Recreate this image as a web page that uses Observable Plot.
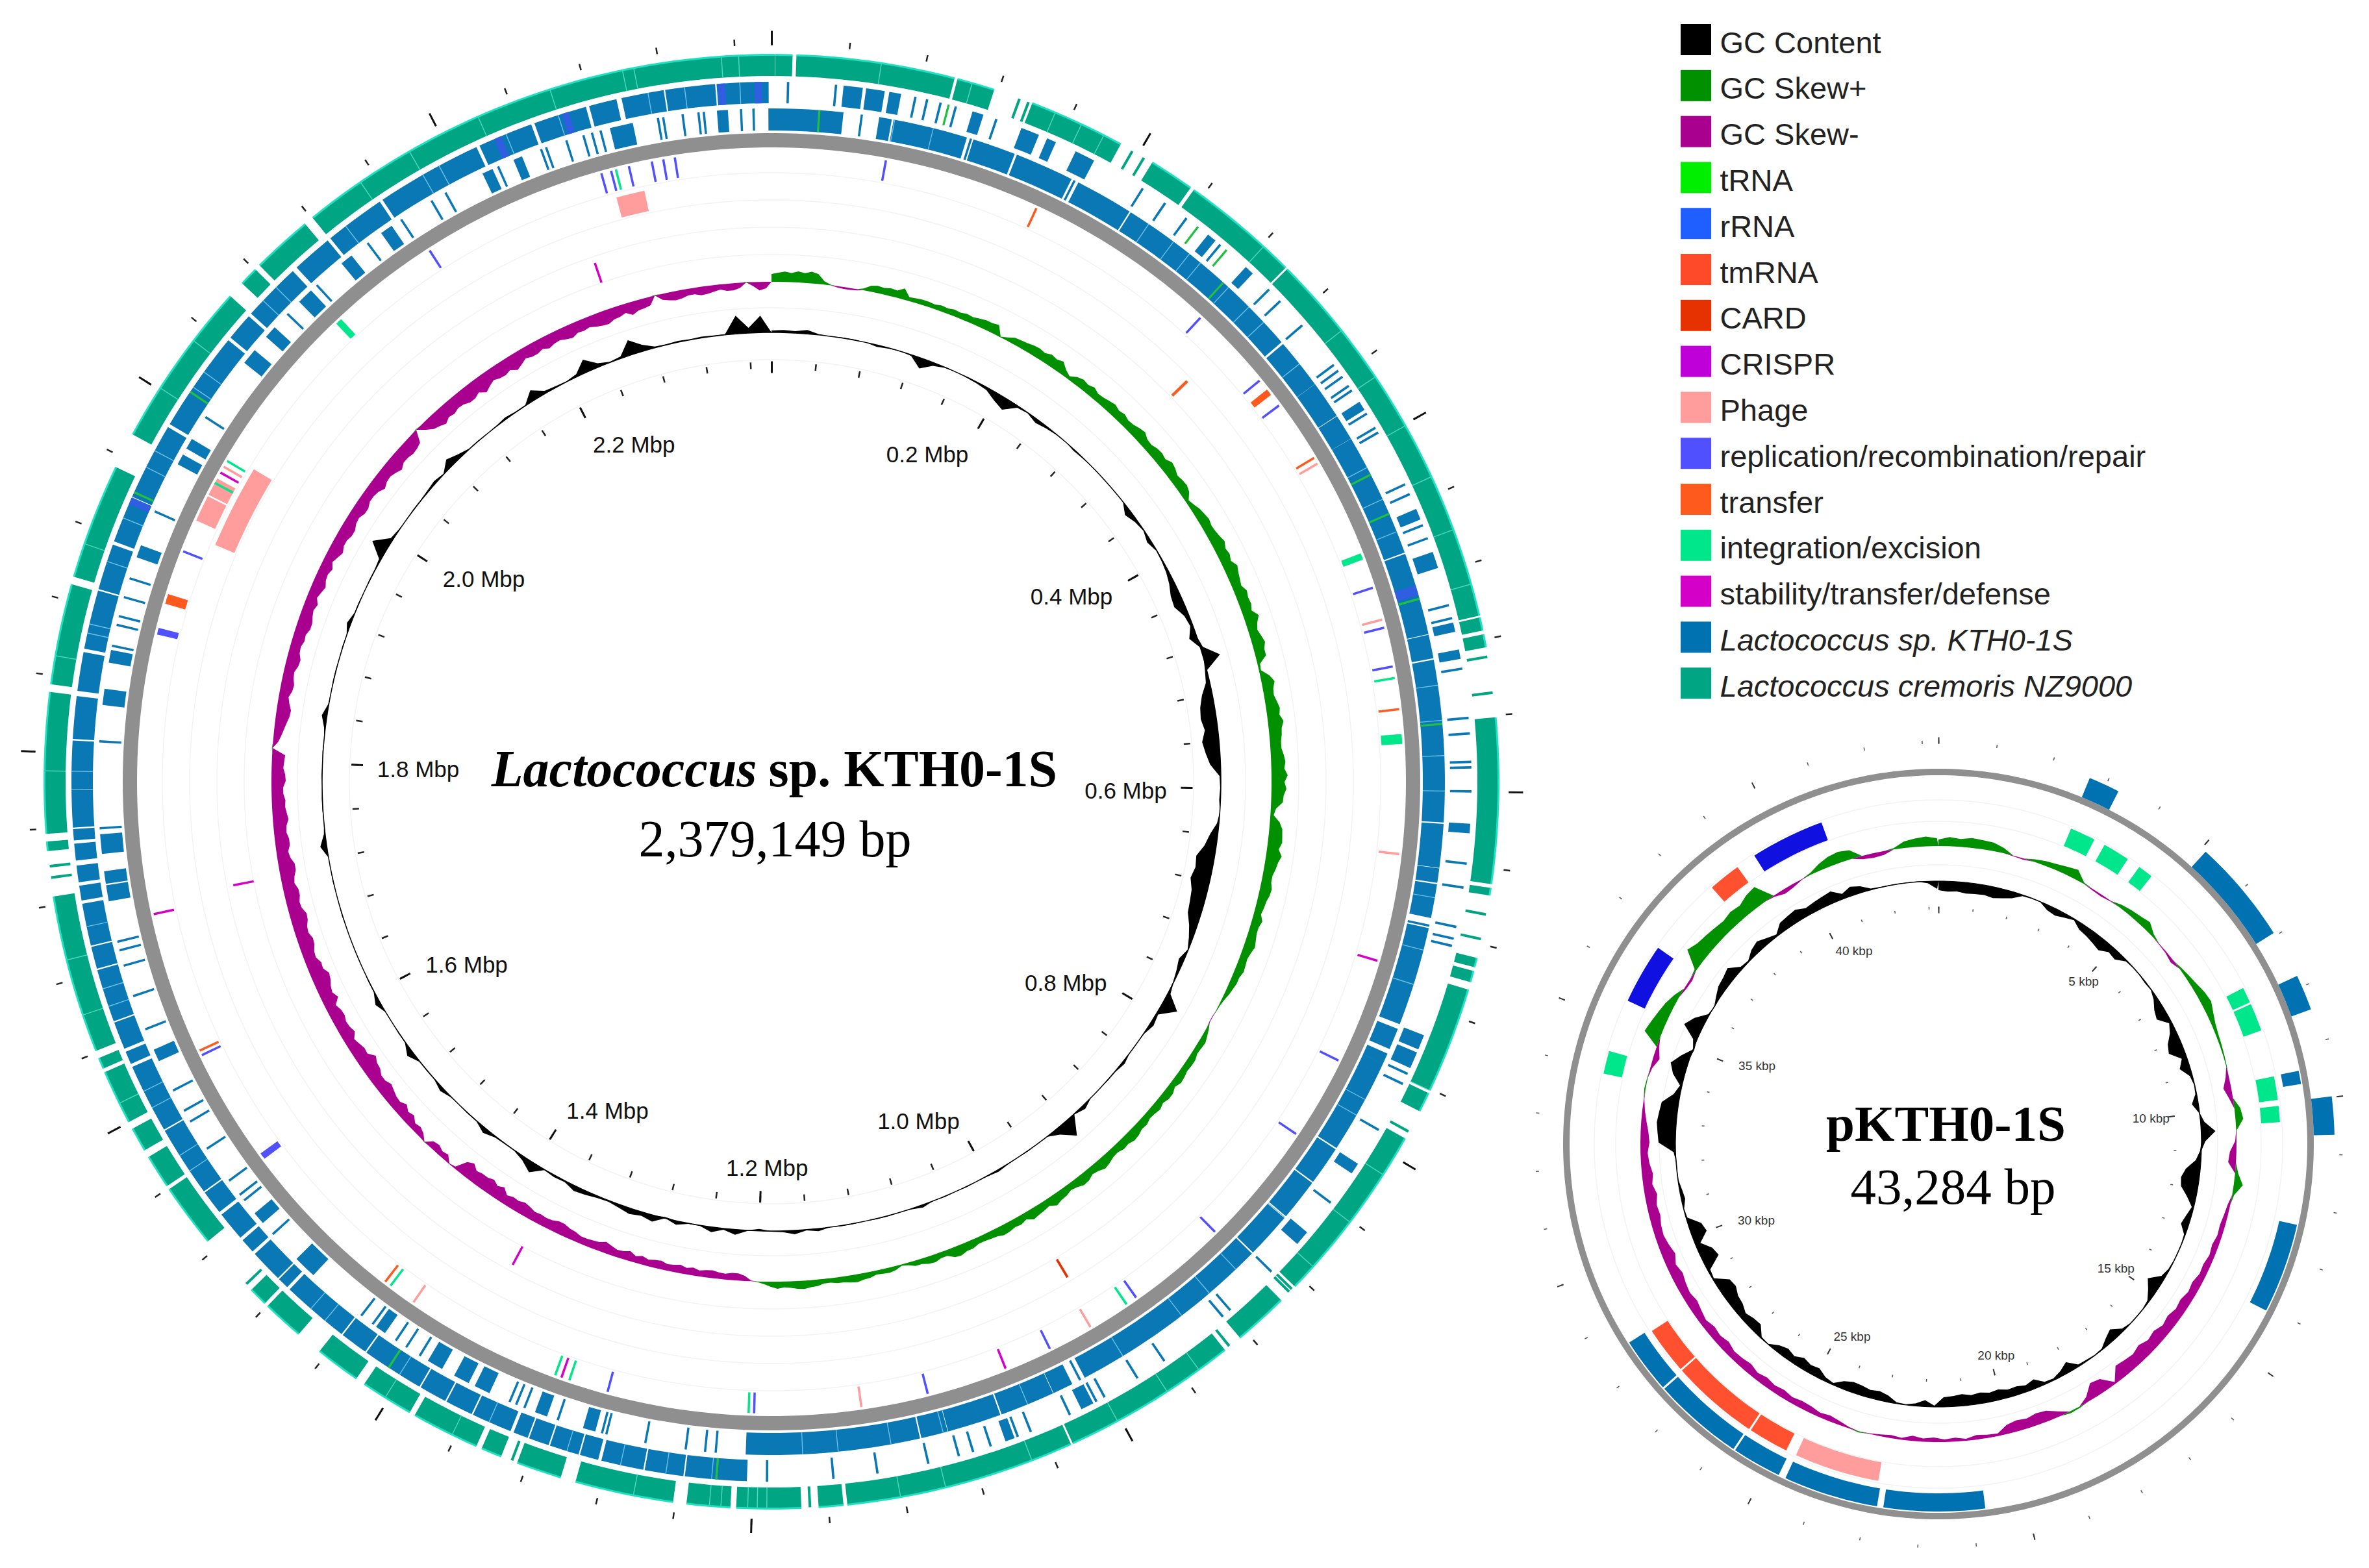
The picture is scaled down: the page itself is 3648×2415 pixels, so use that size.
<!DOCTYPE html>
<html><head><meta charset="utf-8">
<style>html,body{margin:0;padding:0;background:#fff}svg{display:block}</style>
<script src="https://cdn.jsdelivr.net/npm/d3@7"></script>
<script src="https://cdn.jsdelivr.net/npm/@observablehq/plot@0.6"></script>
</head><body><div id="chart"></div>
<script>
// ---- chromosome data, positions in Mbp ----
const genomeLength = 2.379149;
const cremorisBlocks = [[0,.009],[.011,.0945],[.096,.116],[.137,.188],[.207,.231],[.233,.296],[.297,.507],[.508,.515],[.517,.524],[.561,.648],[.65,.654],[.687,.692],[.694,.70],[.704,.76],[.7615,.772],[.788,.884],[.894,.923],[.933,1.026],[1.027,1.148],[1.15,1.163],[1.172,1.206],[1.209,1.232],[1.239,1.291],[1.299,1.323],[1.332,1.343],[1.346,1.382],[1.385,1.413],[1.418,1.442],[1.456,1.478],[1.48,1.49],[1.524,1.558],[1.56,1.578],[1.582,1.595],[1.599,1.628],[1.63,1.636],[1.64,1.724],[1.748,1.753],[1.757,1.831],[1.835,1.888],[1.892,1.953],[1.972,2.06],[2.069,2.079],[2.082,2.114],[2.119,2.379]];
const cremorisThin = [.13,.135,.195,.202,.664,.677,.529,.548,.784,.886,.888,.93,1.1675,1.326,1.494,1.734,1.74];
const cremorisLines = [.0555,.104,.15,.165,.178,.28,.34,.37,.40,.43,.46,.49,.76,.81,.84,.87,.95,.97,1.0,1.049,1.096,1.12,1.19,1.195,1.2,1.214,1.22,1.26,1.36,1.40,1.61,1.66,1.69,1.79,1.85,1.91,2.0,2.03,2.15,2.18,2.22,2.26,2.299,2.305,2.351,2.36];
const kthInnerBlocks = [[2.376,2.379],[0,.038],[.0595,.0655],[.0677,.109],[.114,.122],[.123,.1375],[.141,.153],[.154,.1725],[.179,.21],[.212,.3235],[.326,.3537],[.355,.3755],[.377,.3907],[.392,.462],[.464,.51],[.5116,.524],[.526,.617],[.619,.6425],[.644,.651],[.653,.671],[.678,.733],[.737,.748],[.752,.757],[.758,.763],[.764,.811],[.813,.834],[.836,.8585],[.861,.886],[.888,.957],[.958,1.004],[1.013,1.0235],[1.025,1.055],[1.057,1.068],[1.069,1.077],[1.078,1.0865],[1.088,1.102],[1.104,1.131],[1.132,1.2015],
 [1.2885,1.2945],[1.317,1.323],[1.352,1.36],[1.365,1.373],[1.382,1.39],[1.42,1.425],[1.472,1.484],[1.513,1.519],[1.622,1.628],[1.717,1.725],[1.727,1.733],[1.744,1.754],[1.828,1.836],[1.852,1.858],[1.913,1.919],[1.97,1.975],[1.98,1.985],[2.038,2.046],[2.057,2.063],[2.084,2.092],[2.116,2.122],[2.144,2.15],[2.21,2.215],[2.229,2.233],[2.286,2.298],[2.347,2.352]];
const kthInnerThin = [.049,.112,.14,.175,.178,.676,.679,1.0075,1.219,1.225,1.236,1.259,1.2815,1.284,1.31,1.33,1.335,1.339,1.396,1.405,1.412,1.428,1.436,1.504,1.529,1.533,1.543,1.565,1.583,1.59,1.603,1.641,1.661,1.679,1.688,1.693,1.758,1.807,1.861,1.873,1.878,1.889,1.9,1.94,2.0,2.074,2.097,2.134,2.157,2.177,2.186,2.219,2.245,2.248,2.26,2.27,2.275,2.28,2.313,2.316,2.327,2.336,2.339,2.36,2.367];
const kthInnerLines = [.0677,.09,.2235,.2407,.252,.26,.281,.297,.309,.34,.41,.43,.45,.54,.56,.58,.6,.66,.69,.71,.78,.79,.86,.9,.92,.94,.98,1.04,1.09,1.12,1.15,1.17];
const kthOuterBlocks = [[.0377,.047],[.05,.059],[.0627,.068],[.109,.114],[.137,.146],[.152,.156],[.169,.179],[.254,.258],[.281,.285],[.377,.381],[.443,.448],[.468,.476],[.508,.512],[.523,.527],[.618,.622],[.735,.742],[.745,.753],[.813,.818],[.859,.866],[1.0075,1.0135],[1.054,1.058],
 [1.2015,1.234],[1.236,1.256],[1.258,1.28],[1.283,1.292],[1.294,1.309],[1.311,1.321],[1.323,1.33],[1.333,1.354],[1.356,1.37],[1.372,1.386],[1.388,1.421],[1.423,1.437],[1.439,1.475],[1.478,1.483],[1.485,1.502],[1.505,1.512],[1.515,1.53],[1.533,1.545],[1.547,1.585],[1.587,1.624],[1.627,1.633],[1.636,1.65],[1.652,1.68],[1.682,1.693],[1.695,1.717],[1.72,1.727],[1.73,1.738],[1.742,1.75],[1.753,1.758],[1.76,1.806],[1.808,1.83],[1.834,1.854],[1.857,1.888],[1.89,1.914],[1.917,1.941],[1.943,1.984],[1.987,2.041],[2.044,2.058],[2.061,2.092],[2.096,2.117],[2.12,2.152],[2.155,2.212],[2.215,2.244],[2.247,2.275],[2.278,2.292],[2.296,2.318],[2.32,2.346],[2.348,2.375]];
const kthOuterThin = [.007,.033,.0765,.083,.0905,.099,.122,.21,.2245,.2387,.262,.298,.3067,.3245,.352,.356,.36,.366,.369,.384,.393,.396,.4277,.4336,.452,.4595,.4977,.505,.533,.56,.5685,.584,.587,.6,.639,.652,.6735,.68,.684,.757,.763,.791,.838,.887,.9174,.9227,.9623,.9795,1.0,1.005,1.021,1.044,1.0515,1.067,1.077,1.085,1.102,1.13,1.154,1.19];
const kthOuterLines = [1.22,1.245,1.27,1.30,1.345,1.40,1.45,1.46,1.56,1.57,1.6,1.61,1.66,1.67,1.705,1.78,1.79,1.865,1.87,1.905,1.93,1.96,1.97,2.01,2.02,2.07,2.08,2.13,2.18,2.19,2.23,2.26,2.31,2.33,2.36];
const trnaInner = [.025,.277,.4145,.439,.49,.562];
const trnaOuter = [.095,.2465,.2665,1.2175,1.407,1.945,2.007];
const rrnaOuter = [1.94,2.225,2.264,2.35,2.37];
const rrnaInner = [.485];
// feature tracks
const replicationGenes = [.067,.281,.333,.352,.476,.501,.525,.767,.8176,.8936,.955,1.015,1.093,1.198,1.287,1.543,1.614,1.875,1.925,2.161,2.274,2.28,2.291,2.305,2.312,2.319];
const transferGenes = [.162,.342,.39,.551,1.437,1.617,1.895];
const integrationGenes = [.456,.532,.569,.962,1.2013,1.311,1.32,1.433,1.97,1.985,2.092,2.283];
const stabilityGenes = [.703,1.044,1.316,1.704,1.977];
const phageGenes = [.394,.496,.638,.9875,1.1335,1.416,1.981];
const phageBlocksNear = [[1.945,1.961],[1.962,1.973]];
const phageBlocksFar = [[1.936,1.989],[2.279,2.297]];
const track3Transfer = [.303];
const track3Card = [.984];
const track4Stability = [1.374,1.712,2.253];
const thickFeatures = {transfer:[[1.892,1.898],[.34,.344]], integration:[[.566,.572],[.454,.458],[2.09,2.094]], replication:[[1.541,1.545],[1.873,1.877]]};
// GC skew, one value per 0.005 Mbp (signed height in track units)
const skewMain = [
12,14,16,14,17,15,18,15,5,1,-2,-3,-3,-2,3,9,11,10,12,11,
17,6,7,8,8,7,9,8,10,9,11,10,12,14,14,16,1,5,10,11,
12,14,15,13,17,15,18,10,5,11,14,12,15,11,12,14,16,13,15,12,
13,16,18,13,12,15,16,14,19,17,13,15,16,13,5,8,12,14,16,14,
15,17,20,16,18,15,21,18,16,14,19,17,18,15,23,17,14,17,20,16,
16,4,3,14,20,16,15,18,21,19,24,20,19,17,17,20,22,20,25,20,
23,19,18,8,5,15,20,21,22,18,24,20,18,15,15,18,17,14,13,11,
16,13,13,15,17,14,12,13,14,11,11,9,7,4,2,1,-1,-1,4,7,
10,9,8,11,11,10,12,13,9,13,13,10,13,11,10,13,12,15,16,13,
14,11,12,15,17,13,11,15,16,12,10,13,14,17,11,13,14,16,10,13,
12,14,15,12,11,10,10,13,13,16,15,9,9,12,11,8,8,4,2,6,
8,7,6,9,10,12,11,9,9,7,7,10,11,13,12,10,9,11,8,4,
1,-1,-8,-11,-11,-9,-10,-12,-11,-9,-12,-10,-13,-11,-10,-13,-12,-10,-13,-10,
-15,-12,-11,-14,-17,-13,-12,-11,-11,-14,-15,-18,-18,-15,-14,-15,-14,-17,-19,-16,
-17,-14,-22,-18,-23,-20,-20,-18,-25,-20,-3,-1,-10,-8,-12,-10,1,-8,-12,-10,
-17,-14,-20,-15,-16,-19,-22,-18,-18,-23,-24,-29,-20,-21,-18,-15,-22,-19,-18,-21,
-20,-16,-25,-20,-22,-26,-28,-22,-23,-18,-19,-23,-24,-20,-21,-25,-26,-21,-20,-23,
-23,-19,-21,-25,-25,-20,-18,-22,-22,-19,-20,-24,-22,-20,-21,-18,-18,-22,-21,-18,
-19,-20,1,-8,-12,-15,-18,-21,-22,-18,-15,-19,-20,-17,-16,-20,-21,-17,-16,-19,
-18,-22,-22,-19,-17,-20,-15,-18,-21,-17,-16,-19,-14,-18,-22,-18,-18,-21,-21,-17,
-16,-20,-20,-16,-16,-18,-23,-19,-18,-21,-25,-20,-20,-22,-21,-18,1,-10,-18,-21,
-25,-20,-22,-19,-20,-24,-24,-20,-27,-22,-18,-21,-22,-19,-25,-21,-16,-19,-19,-16,
-20,-17,-16,-19,-21,-17,-18,-16,-19,-21,-22,-18,-17,-14,-20,-16,-15,-13,1,-9,
-12,-14,-13,-10,-10,-13,-12,-10,-8,-11,-11,-8,1,-6,-13,-10];
// GC content, one value per 0.01 Mbp
const gcMain = [3,4,3,6,1,0,1,1,0,-3, -1,0,-2,-16,-5,-1,0,-1,-2,-4, -12,-18,-3,-1,-6,-3,-1,0,-2,-1, 0,0,0,0,0,-10,-4,-1,-6,-1, -2,-4,-8,-14,-16,-7,-4,-12,4,26, -3,-6,-16,-22,-24,-20,-26,-22,-16,-2, -1,-2,0,-3,-12,-18,-28,-26,-30,-24, -22,-20,-12,-6,-1,-8,-4,-1,4,26, 3,6,1,0,0,4,1,1,0,0, 6,1,28,10,0,0,1,0,1,3, 1,0,1,0,1,0,4,1,0,1, 1,0,1,1,0,4,1,6,2,1, -3,1,8,2,8,1,1,6,-2,10, 6,9,5,2,3,6,8,2,3,1, 16,6,1,1,2,8,1,1,0,1, 6,1,1,1,10,1,1,0,0,8, 1,1,0,0,0,0,0,1,0,0, 1,0,0,10,2,0,1,1,0,1, 0,1,0,2,8,1,0,1,1,0, 1,0,6,1,1,0,1,1,3,26, 4,1,0,1,1,2,4,1,13,6, 1,1,0,1,3,1,1,16,4,2, 1,4,20,6,1,3,23,10,2,1, 2,1,2,1,1,28,8,26];
const mbpTicks = d3.range(0, 2.37, 0.04);
const mbpLabels = [0.2,0.4,0.6,0.8,1.0,1.2,1.4,1.6,1.8,2.0,2.2];

// ---- plasmid data, positions in kbp ----
const plasmidLength = 43.284;
const plasmidFarBlue = [[2.7,3.25],[5.1,6.95],[7.8,8.43],[9.99,10.66]];
const plasmidNearBlue = [[9.44,9.69],[12.35,14.06],[20.76,22.68],[22.8,24.6],[24.74,25.68],[25.72,27.44],[27.48,28.53]];
const plasmidIntegration = [[2.74,3.26],[3.49,4.04],[4.32,4.63],[7.56,7.88],[7.92,8.49],[9.45,9.93],[10.05,10.38],[33.89,34.36]];
const plasmidRepair = [[35.44,36.67],[39.37,40.88]];
const plasmidTransfer = [[24.82,25.64],[25.68,27.48],[27.52,28.48],[38.3,38.96]];
const plasmidPhage = [[22.86,24.6]];
// one value per 0.25 kbp
const skewPlasmid = [10,14,12,15, 14,13,8,-1, -2,4,7,9, 12,15,2,-2, -3,-1,5,8, 10,13,4,-1, -2,-5,3,6, 9,13,15,10, 6,4,3,2, 1,-5,-12,-6, 9,12,1,-2, -10,-12,5,14, 3,-4,-6,-8, -7,-10,-8,-11, -10,-14,-12,-16, -14,-18,-15,-20, -17,-22,-18,-20, -22,-3,-20,-23, -8,2,3,-8, -16,-18,-15,-17, -14,-4,-5,-7, -3,-6,-4,-7, -5,-8,-3,-5, -3,-1,2,-2, -6,-9,-7,-10, -11,-9,-12,-10, -13,-10,-14,-12, -11,-15,-12,-14, -10,-13,-16,-13, -15,-18,-14,-20, -16,-13,-14,-17, -15,-19,-14,-17, -13,-11,-14,-12, -8,-4,-1,2, 1,-3,-10,-4, 26,22,18,14, 8,-3,-4,3, 30,24,22,20, 18,21,19,25, 28,-2,-7,-5, -1,3,10,15, 17,14,-5,-7, -6,2,10,13, 15,12];
const gcPlasmid = [-14,-16,-15,-17, -16,-15,-17,-14, -10,-2,-1,-1, -8,-10,-6,-2, -10,-12,-15,-18, -10,-12,-2,-1, -1,-2,-1,-6, -14,-18,-4,-10, -20,-24,-8,-16, -4,-1,-2,-10, -1,6,22,6, -2,-8,-22,-28, -26,-14,-3,-8, -12,-2,-1,-1, -1,-2,-6,-22, -12,-3,-1,-1, -1,-4,-16,-10, -2,-1,-2,-3, -16,-8,-3,-4, -14,-10,-13,-12, -16,-14,-17,-15, -18,-16,-15,-2, -10,-4,-1,-2, -10,-14,-12,-15, -16,-12,-3,-6, -14,-12,-16,-10, -14,-10,-1,-2, -15,-14,-10,-16, -18,-24,-22,-2, -4,-26,-22,-8, -24,-20,-2,-1, -6,-4,-1,-1, -1,3,26,28, 30,28,26,10, 3,18,26,14, -2,6,28,18, 2,-1,6,12, 14,18,4,2, 10,14,8,3, 14,16,18,12, 14,16,18,8, 14,10,2,1, 1,1,1,1, -3,-12];
const kbpTicks = d3.range(0, 43.2, 1);
const kbpLabels = [5,10,15,20,25,30,35,40];

// ---- legend ----
const legendLabels = ["GC Content","GC Skew+","GC Skew-","tRNA","rRNA","tmRNA","CARD","CRISPR","Phage","replication/recombination/repair","transfer","integration/excision","stability/transfer/defense","Lactococcus sp. KTH0-1S","Lactococcus cremoris NZ9000"];
const legendColors = ["#000000","#009000","#aa0090","#00ee00","#1f5fff","#ff4a2a","#e63200","#c000d8","#ff9d9d","#5050ff","#ff5a1e","#00e68a","#d400c8","#0072b2","#00a583"];
const legendItalic = ["Lactococcus sp. KTH0-1S","Lactococcus cremoris NZ9000"];
const col = Object.fromEntries(legendLabels.map((k,i)=>[k,legendColors[i]]));

// ---- geometry ----
const main = {cx:1188, cy:1204, len:genomeLength, nudge:0.002};
const mainTrue = {...main, nudge:0};
const plas = {cx:2985, cy:1762, len:plasmidLength, nudge:0};
const pt = (g,p,r) => {
  const f = p/g.len*2*Math.PI;
  const a = (p + g.nudge*Math.abs(Math.cos(f)))/g.len*2*Math.PI;
  return [g.cx + r*Math.sin(a), g.cy - r*Math.cos(a)];
};
let uid = 0;
function rows(g, blocks, r0, r1) {
  const out = [];
  for (const [s,e] of blocks) {
    const id = uid++;
    const n = Math.max(2, Math.ceil((e-s)/g.len*360));
    for (let i=0;i<=n;i++) {
      const p = s+(e-s)*i/n;
      const [x1,y1] = pt(g,p,r0), [x2,y2] = pt(g,p,r1);
      out.push({id,x1,y1,x2,y2});
    }
  }
  return out;
}
const band = (g,blocks,r0,r1,fill,extra={}) =>
  Plot.area(rows(g,blocks,r0,r1),{x1:"x1",y1:"y1",x2:"x2",y2:"y2",z:"id",fill,curve:"linear",...extra});
const thin = (list,w) => list.map(p=>[p-w/2,p+w/2]);
const pad = (list,w) => list.map(([s,e])=>[s-w,e+w]);
const ringBand = (g,r0,r1,fill) => band(g,[[0,g.len]],r0,r1,fill);
const faint = (g,r) => ringBand(g,r-0.7,r+0.7,"#f2f2f2");
function profile(g, values, step, base, sign, fill) {
  const data = values.map((v,i)=>{
    const h = sign*v>0 ? v : 0;
    const [x1,y1] = pt(g,i*step,base), [x2,y2] = pt(g,i*step,base+h);
    return {x1,y1,x2,y2};
  });
  const [x1,y1]=pt(g,g.len,base);
  data.push({x1,y1,x2:x1,y2:y1});
  return Plot.area(data,{x1:"x1",y1:"y1",x2:"x2",y2:"y2",fill,curve:"linear"});
}
const profileLine = (g, base, stroke, w) => ringBand(g, base-w/2, base+w/2, stroke);
function ticks(g, list, r0, r1, stroke, strokeWidth) {
  const d = list.map(p=>{const [x1,y1]=pt(g,p,r0),[x2,y2]=pt(g,p,r1);return {x1,y1,x2,y2};});
  return Plot.link(d,{x1:"x1",y1:"y1",x2:"x2",y2:"y2",stroke,strokeWidth});
}
const sans = "Liberation Sans", serif = "Liberation Serif";
const label = (x,y,text,fontSize,o={}) => Plot.text([{x,y,text}],{x:"x",y:"y",text:"text",fontSize,fontFamily:sans,fill:"#111",lineAnchor:"middle",...o});
const labelPos = (g,p,rx,ry,pow) => {
  const a = p/g.len*2*Math.PI, s = Math.sin(a);
  return [g.cx + rx*Math.sign(s)*Math.pow(Math.abs(s),pow), g.cy - ry*Math.cos(a)];
};

const T1=[941,973], T2=[899,931], T3=[857,889], T4=[812,844];
const K1=[1003,1037], K2=[1045,1078], C=[1087,1119];
const P = .0006;

const marks = [
  // chromosome rings
  ...[650,730,812,854,896,938].map(r=>faint(main,r)),
  ringBand(main,977,999,"#8f8f8f"),
  // genome comparison tracks
  band(main,pad(kthInnerBlocks,P),K1[0],K1[1],"#0a78b4"),
  band(main,thin(kthInnerThin,.0013),K1[0],K1[1],"#0a78b4"),
  band(main,thin(kthInnerLines,.0005),K1[0],K1[1],"#6cc0e6"),
  band(main,thin(rrnaInner,.006),K1[0],K1[1],"#2f5fe0"),
  band(main,thin(trnaInner,.0012),K1[0],K1[1],"#22c040"),
  band(main,pad(kthOuterBlocks,P),K2[0],K2[1],"#0a78b4"),
  band(main,thin(kthOuterThin,.0013),K2[0],K2[1],"#0a78b4"),
  band(main,thin(kthOuterLines,.0005),K2[0],K2[1],"#6cc0e6"),
  band(main,thin(rrnaOuter,.004),K2[0],K2[1],"#2f5fe0"),
  band(main,thin(trnaOuter,.0012),K2[0],K2[1],"#22c040"),
  band(main,cremorisBlocks,C[0],C[1],"#00a583"),
  band(main,thin(cremorisThin,.0014),C[0],C[1],"#00a583"),
  band(main,thin(cremorisLines,.0005),C[0],C[1],"#4fd6bb"),
  band(main,cremorisBlocks,C[1]-1,C[1]+2,"#1fe0c0"),
  // feature tracks
  band(main,phageBlocksFar,T2[0],T2[1],"#ff9d9d"),
  band(main,phageBlocksNear,T1[0],T1[1],"#ff9d9d"),
  band(main,thin(phageGenes,.0014),T1[0],T1[1],"#ff9d9d"),
  band(main,thin(replicationGenes,.0014),T1[0],T1[1],"#5050ff"),
  band(main,thin(transferGenes,.0014),T1[0],T1[1],"#ff5a1e"),
  band(main,thin(integrationGenes,.0014),T1[0],T1[1],"#00e68a"),
  band(main,thin(stabilityGenes,.0014),T1[0],T1[1],"#d400c8"),
  band(main,thickFeatures.transfer,T1[0],T1[1],"#ff5a1e"),
  band(main,thickFeatures.integration,T1[0],T1[1],"#00e68a"),
  band(main,thickFeatures.replication,T1[0],T1[1],"#5050ff"),
  band(main,thin(track3Transfer,.002),T3[0],T3[1],"#ff5a1e"),
  band(main,thin(track3Card,.0016),T3[0],T3[1],"#e63200"),
  band(main,thin(track4Stability,.0016),T4[0],T4[1],"#d400c8"),
  // GC skew, GC content
  profile(mainTrue,skewMain,.005,770,1,"#009000"),
  profile(mainTrue,skewMain,.005,770,-1,"#aa0090"),
  profile(mainTrue,gcMain,.01,692,1,"#000"),
  profile(mainTrue,gcMain,.01,692,-1,"#000"),
  profileLine(mainTrue,692,"#000",1.5),
  // ticks
  ticks(mainTrue,mbpTicks,1135,1145,"#222",2.5),
  ticks(mainTrue,mbpLabels.concat([0]),1135,1157,"#111",3),
  ticks(mainTrue,mbpTicks,637,647,"#222",2.5),
  ticks(mainTrue,mbpLabels.concat([0]),630,648,"#111",3),
  ...mbpLabels.map(m=>{const [x,y]=labelPos(mainTrue,m,545,590,1.2);return label(x,y+6,m.toFixed(1)+" Mbp",35);}),
  // title chromosome
  label(1165,1210,"Lactococcus",80,{fontFamily:serif,fontWeight:"bold",fontStyle:"italic",textAnchor:"end",fill:"#000",lineAnchor:"bottom"}),
  label(1183,1210,"sp. KTH0-1S",80,{fontFamily:serif,fontWeight:"bold",textAnchor:"start",fill:"#000",lineAnchor:"bottom"}),
  label(1193,1318,"2,379,149 bp",80,{fontFamily:serif,fill:"#000",lineAnchor:"bottom"}),

  // plasmid
  ...[430,497,530].map(r=>faint(plas,r)),
  ringBand(plas,568,578,"#8f8f8f"),
  band(plas,plasmidFarBlue,578,610,"#0072b2"),
  band(plas,plasmidNearBlue,538,566,"#0072b2"),
  band(plas,plasmidIntegration,498,527,"#00e68a"),
  band(plas,plasmidRepair,498,527,"#1010e0"),
  band(plas,plasmidTransfer,498,527,"#ff5030"),
  band(plas,plasmidPhage,498,527,"#ff9d9d"),
  profile(plas,skewPlasmid,.25,459,1,"#009000"),
  profile(plas,skewPlasmid,.25,459,-1,"#aa0090"),
  profile(plas,gcPlasmid,.25,405,1,"#000"),
  profile(plas,gcPlasmid,.25,405,-1,"#000"),
  profileLine(plas,405,"#000",1.2),
  ticks(plas,kbpTicks,617,622,"#555",1.5),
  ticks(plas,[0,...kbpLabels],617,627,"#333",2),
  ticks(plas,kbpTicks,362,366,"#555",1.5),
  ticks(plas,[0,...kbpLabels],356,366,"#333",2),
  ...kbpLabels.map(k=>{const [x,y]=labelPos(plas,k,315,335,1);return label(x+14,y,k+" kbp",19,{fill:"#333"});}),
  label(2996,1756,"pKTH0-1S",79,{fontFamily:serif,fontWeight:"bold",fill:"#000",lineAnchor:"bottom"}),
  label(3007,1853,"43,284 bp",79,{fontFamily:serif,fill:"#000",lineAnchor:"bottom"}),

  // legend
  Plot.rect(legendLabels.map((t,i)=>({t,i})),{x1:()=>2588,x2:()=>2635,y1:d=>37+d.i*70.8,y2:d=>85+d.i*70.8,fill:d=>col[d.t]}),
  ...legendLabels.map((t,i)=>label(2648,66+i*70.8,t,47,{textAnchor:"start",fill:"#222",fontStyle:legendItalic.includes(t)?"italic":"normal"}))
];

const chart = Plot.plot({
  width:3648, height:2415, margin:0,
  x:{domain:[0,3648],range:[0,3648],axis:null},
  y:{domain:[0,2415],range:[0,2415],axis:null},
  color:{type:"identity"},
  marks
});
document.getElementById("chart").appendChild(chart);
</script></body></html>
